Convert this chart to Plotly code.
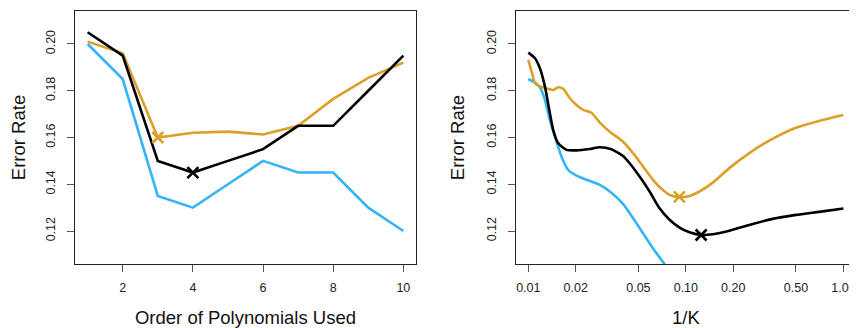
import plotly.graph_objects as go

# ---- Left panel: polynomial order ----
poly_order = [1, 2, 3, 4, 5, 6, 7, 8, 9, 10]
poly_black = [0.205, 0.195, 0.150, 0.145, 0.150, 0.155, 0.165, 0.165, 0.180, 0.195]
poly_orange = [0.201, 0.196, 0.160, 0.162, 0.1625, 0.1613, 0.165, 0.1765, 0.1855, 0.192]
poly_blue = [0.200, 0.185, 0.135, 0.130, 0.140, 0.150, 0.145, 0.145, 0.130, 0.120]
poly_orange_min = (3, 0.160)
poly_black_min = (4, 0.145)

# ---- Right panel: 1/K ----
k_black_x = [0.01, 0.01102, 0.01185, 0.01275, 0.01359, 0.01439, 0.01549, 0.01749, 0.02023,
             0.02455, 0.02843, 0.03367, 0.03992, 0.04399, 0.05089, 0.05888, 0.06812, 0.0788,
             0.09117, 0.1055, 0.125, 0.1483, 0.1889, 0.2528, 0.3555, 0.4993, 0.7015, 1.0]
k_black_y = [0.1963, 0.1939, 0.1896, 0.1818, 0.1718, 0.1632, 0.1575, 0.1547, 0.1545,
             0.1551, 0.1558, 0.1550, 0.1521, 0.1490, 0.1433, 0.1369, 0.1297, 0.1248,
             0.1215, 0.1195, 0.1183, 0.1186, 0.1201, 0.1226, 0.1252, 0.1269, 0.1282, 0.1296]
k_orange_x = [0.01, 0.0105, 0.01102, 0.01185, 0.01306, 0.01439, 0.01549, 0.01666, 0.01837,
              0.02023, 0.02229, 0.02517, 0.02843, 0.03289, 0.03992, 0.04626, 0.05346, 0.0618,
              0.07145, 0.08069, 0.09117, 0.1055, 0.122, 0.1483, 0.1889, 0.2528, 0.3384,
              0.4993, 0.7015, 1.0]
k_orange_y = [0.1932, 0.1882, 0.1832, 0.1818, 0.1810, 0.1803, 0.1815, 0.1808, 0.1768,
              0.1739, 0.1718, 0.1706, 0.1664, 0.1625, 0.1582, 0.1533, 0.1476, 0.1419,
              0.1376, 0.1352, 0.1345, 0.1350, 0.1369, 0.1407, 0.1469, 0.1533, 0.1587,
              0.1642, 0.1671, 0.1696]
k_blue_x = [0.01, 0.01102, 0.01185, 0.01275, 0.01371, 0.01475, 0.01626, 0.01792, 0.02023,
            0.02339, 0.02843, 0.03367, 0.03992, 0.04626, 0.05346, 0.0618, 0.07328, 0.08]
k_blue_y = [0.1850, 0.1835, 0.1815, 0.1761, 0.1675, 0.1604, 0.1518, 0.1461, 0.1437,
            0.1419, 0.1397, 0.1364, 0.1316, 0.1255, 0.1191, 0.1126, 0.1058, 0.1020]
k_orange_min = (0.0909, 0.1346)
k_black_min = (0.125, 0.1183)

x_ticks_left = [2, 4, 6, 8, 10]
x_ticks_right = [0.01, 0.02, 0.05, 0.10, 0.20, 0.50, 1.00]
x_ticktext_right = ["0.01", "0.02", "0.05", "0.10", "0.20", "0.50", "1.00"]
y_ticks = [0.12, 0.14, 0.16, 0.18, 0.20]
y_ticktext = ["0.12", "0.14", "0.16", "0.18", "0.20"]

BLACK = "#000000"
ORANGE = "#DBA02A"
BLUE = "#33B5F7"
LW = 2.6

fig = go.Figure()

def add_line(x, y, color, xa, ya, shape="linear"):
    fig.add_trace(go.Scatter(x=x, y=y, mode="lines", xaxis=xa, yaxis=ya,
                             line=dict(color=color, width=LW, shape=shape,
                                       smoothing=0.6 if shape == "spline" else None),
                             showlegend=False, hoverinfo="skip"))

def add_marker(pt, color, xa, ya):
    fig.add_trace(go.Scatter(x=[pt[0]], y=[pt[1]], mode="markers", xaxis=xa, yaxis=ya,
                             marker=dict(symbol="x-thin", size=11, color=color,
                                         line=dict(color=color, width=2.6)),
                             showlegend=False, hoverinfo="skip"))

add_line(poly_order, poly_blue, BLUE, "x", "y")
add_line(poly_order, poly_orange, ORANGE, "x", "y")
add_line(poly_order, poly_black, BLACK, "x", "y")
add_marker(poly_orange_min, ORANGE, "x", "y")
add_marker(poly_black_min, BLACK, "x", "y")

add_line(k_blue_x, k_blue_y, BLUE, "x2", "y2", "spline")
add_line(k_orange_x, k_orange_y, ORANGE, "x2", "y2", "spline")
add_line(k_black_x, k_black_y, BLACK, "x2", "y2", "spline")
add_marker(k_orange_min, ORANGE, "x2", "y2")
add_marker(k_black_min, BLACK, "x2", "y2")

# page body has an 8px margin, so the figure is offset by 8px
OFF = 8
W, H = 857 - OFF, 328 - OFF
FONT = "Liberation Sans, Arial, Helvetica, sans-serif"
TITLE_SIZE = 18.5

common_axis = dict(showline=True, mirror=True, linecolor="#222", linewidth=1.2,
                   ticks="outside", ticklen=7, tickwidth=1, tickcolor="#555",
                   showgrid=False, zeroline=False, automargin=False,
                   tickfont=dict(family=FONT, size=12.5, color="#222"))

yaxis_common = dict(common_axis, range=[0.1059, 0.2141], tickvals=y_ticks, ticktext=y_ticktext,
                    tickangle=-90, ticklabelstandoff=7,
                    title=dict(text="Error Rate",
                               font=dict(family=FONT, size=TITLE_SIZE, color="#111"),
                               standoff=15))

fig.update_layout(
    width=W, height=H,
    margin=dict(l=0, r=0, t=11 - OFF, b=H - (264 - OFF)),
    paper_bgcolor="white", plot_bgcolor="white",
    font=dict(family=FONT, color="#111"),
    xaxis=dict(common_axis, domain=[(75 - OFF) / W, (416 - OFF) / W], range=[0.64, 10.36],
               tickvals=x_ticks_left, ticktext=[str(v) for v in x_ticks_left],
               ticklabelstandoff=5,
               title=dict(text="Order of Polynomials Used",
                          font=dict(family=FONT, size=TITLE_SIZE, color="#111"), standoff=17)),
    yaxis=dict(yaxis_common, anchor="x", domain=[0, 1]),
    xaxis2=dict(common_axis, domain=[(515.7 - OFF) / W, (856 - OFF) / W], type="log",
                range=[-2.08, 0.08],
                tickvals=x_ticks_right, ticktext=x_ticktext_right, ticklabelstandoff=5,
                anchor="y2",
                title=dict(text="1/K", font=dict(family=FONT, size=TITLE_SIZE, color="#111"),
                           standoff=17)),
    yaxis2=dict(yaxis_common, anchor="x2", domain=[0, 1]),
)

fig.write_html("out.html")
